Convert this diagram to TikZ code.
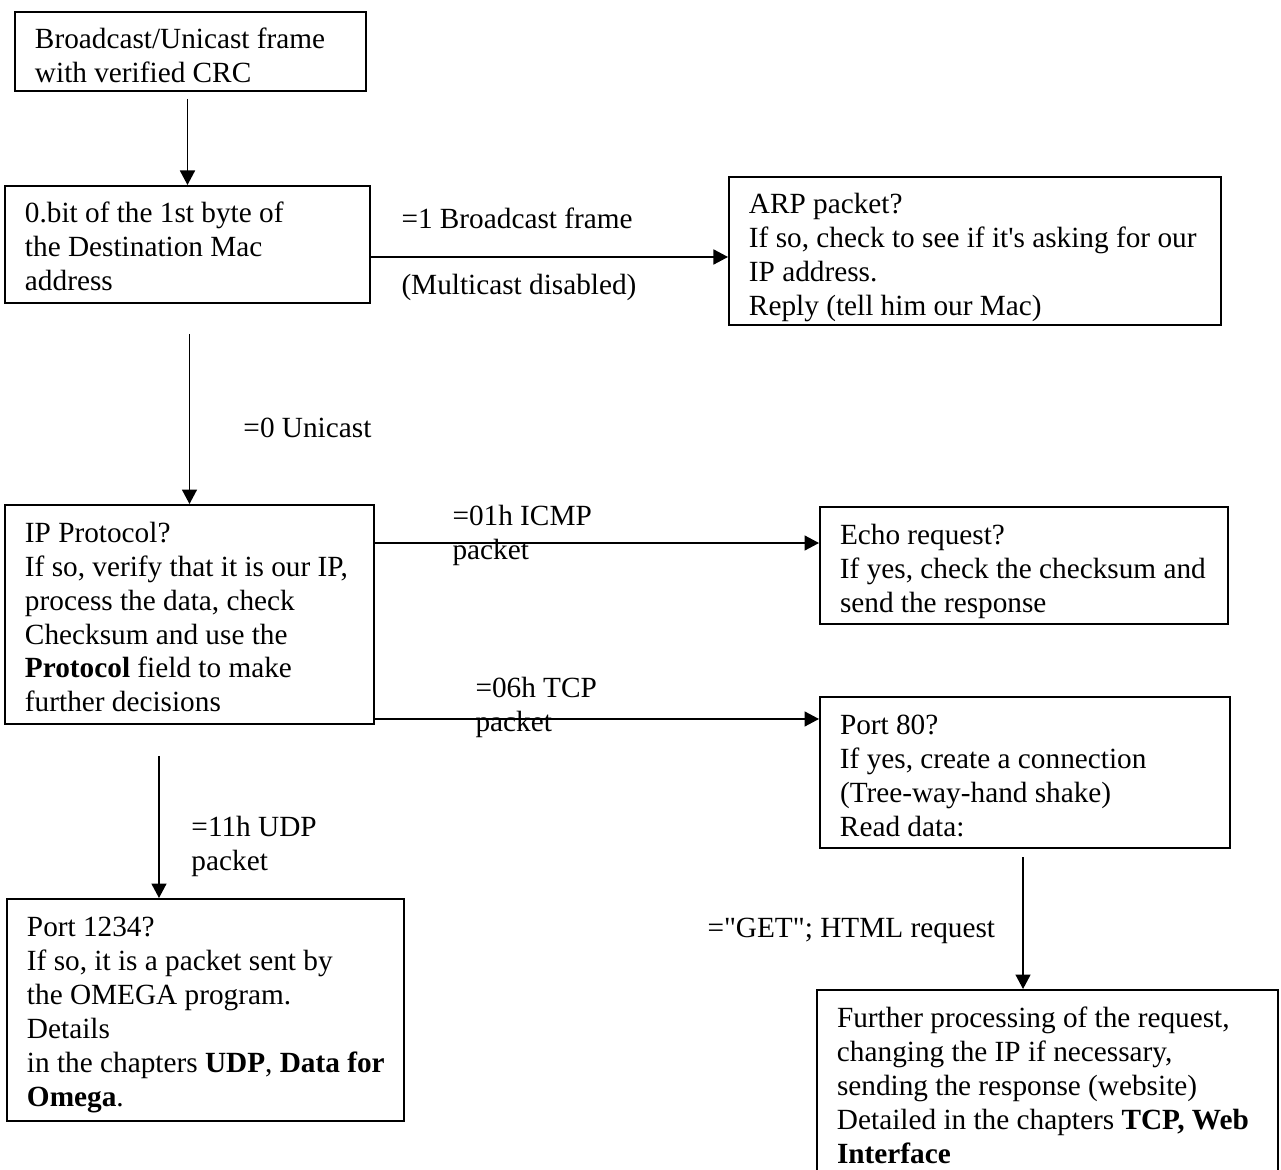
\documentclass[tikz,border=0pt]{standalone}
\usepackage{fontspec}
\setmainfont{Liberation Serif}[Ligatures=TeXOff]
\usetikzlibrary{arrows.meta}

% one drawing unit = one pixel of the layout grid (0.4065pt)
\newlength\px
\setlength\px{0.4065pt}

% box contents: fixed width/height, text hung from the top-left corner
\newcommand{\boxtext}[3]{\parbox[c][#2\px][t]{#1\px}{\raggedright
  \leftskip=20\px\rightskip=-40\px plus 1fil\relax
  \rule{0pt}{37\px}#3}}
% multi-line connector label, baseline on its first line
\newcommand{\lbltext}[1]{\parbox[t]{300\px}{\raggedright #1}}

\tikzset{
  flow/.style={draw, line width=0.8pt, inner sep=0pt, anchor=north west},
  arr/.style={line width=0.65pt, -{Triangle[length=5.9pt,width=6.1pt]}},
  lbl/.style={inner sep=0pt, anchor=base west},
}

\begin{document}
\begin{tikzpicture}[x=0.4065pt, y=-0.4065pt,
  every node/.style={font=\fontsize{11.9pt}{13.82pt}\selectfont}]
\useasboundingbox (0,0) rectangle (1281,1169);
\clip (0,0) rectangle (1281,1169);

% decision boxes
\node[flow] (frame) at (14,11)
  {\boxtext{351}{79}{Broadcast/Unicast frame\\with verified CRC}};
\node[flow] (bits) at (4,185)
  {\boxtext{365}{117}{0.bit of the 1st byte of\\the Destination Mac\\address}};
\node[flow] (arp) at (728,176)
  {\boxtext{492}{148}{ARP packet?\\If so, check to see if it's asking for our\\IP address.\\Reply (tell him our Mac)}};
\node[flow] (ip) at (4,504)
  {\boxtext{369}{219}{IP Protocol?\\If so, verify that it is our IP,\\process the data, check\\Checksum and use the\\\textbf{Protocol} field to make\\further decisions}};
\node[flow] (echo) at (819,506)
  {\boxtext{408}{117}{Echo request?\\If yes, check the checksum and\\send the response}};
\node[flow] (web) at (819,696)
  {\boxtext{410}{151}{Port 80?\\If yes, create a connection\\(Tree-way-hand shake)\\Read data:}};
\node[flow] (udp) at (6,898)
  {\boxtext{397}{222}{Port 1234?\\If so, it is a packet sent by\\the OMEGA program.\\Details\\in the chapters \textbf{UDP}, \textbf{Data for}\\\textbf{Omega}.}};
\node[flow] (html) at (816,989)
  {\boxtext{461}{220}{Further processing of the request,\\changing the IP if necessary,\\sending the response (website)\\Detailed in the chapters \textbf{TCP, Web}\\\textbf{Interface}}};

% connectors
\draw[arr, shorten <=2.85pt] (frame.south -| bits.north) -- (bits.north);
\draw[arr] ([yshift=-5.08pt]bits.east) -- ([yshift=-5.08pt]bits.east -| arp.west);
\draw[arr, shorten <=12.2pt] (bits.south -| ip.north) -- (ip.north);
\draw[arr] ([yshift=-15.85pt]ip.north east) -- ([yshift=-15.85pt]ip.north east -| echo.west);
\draw[arr] ([yshift=2.44pt]ip.south east) -- ([yshift=2.44pt]ip.south east -| web.west);
\draw[arr, shorten <=12.6pt] ([xshift=63pt]ip.south west) -- ([xshift=63pt]ip.south west |- udp.north);
\draw[arr, shorten <=3.3pt] ([xshift=-0.8pt]web.south) -- ([xshift=-0.8pt]web.south |- html.north);

% connector labels
\node[lbl] (bcast) at (401,228) {=1 Broadcast frame};
\node[lbl] (mcast) at (401,294) {(Multicast disabled)};
\node[lbl] (ucast) at (243,437) {=0 Unicast};
\node[lbl] (icmp) at (452,525) {\lbltext{=01h ICMP\\packet}};
\node[lbl] (tcp) at (475,697) {\lbltext{=06h TCP\\packet}};
\node[lbl] (udpl) at (191,836) {\lbltext{=11h UDP\\packet}};
\node[lbl] (get) at (707,937) {="GET"; HTML request};
\end{tikzpicture}
\end{document}
